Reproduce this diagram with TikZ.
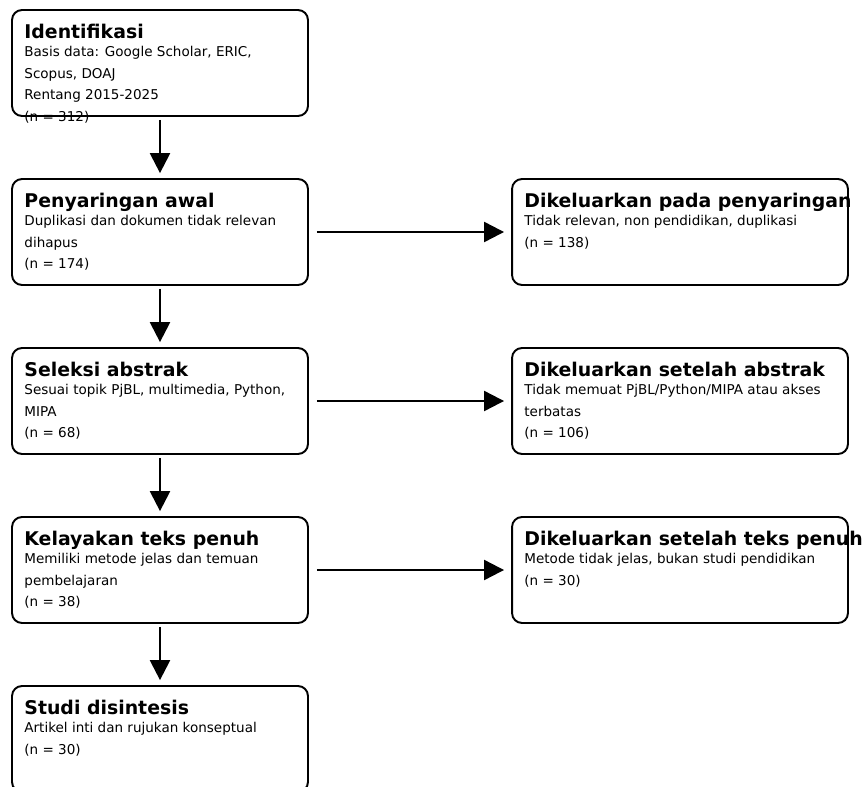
\documentclass[tikz,border=0pt]{standalone}
\usepackage{fontspec}
\setmainfont{DejaVu Sans}
\usetikzlibrary{arrows.meta}
\usetikzlibrary{calc}
\tikzset{stagebox/.style = {draw, line width=1.1pt, rounded corners=0.2cm,
                            minimum width=5.92cm, minimum height=2.12cm, inner sep=0pt},
         exclbox/.style  = {stagebox, minimum width=6.72cm},
         headtext/.style = {anchor=base west, inner sep=0pt,
                            font=\fontsize{10.75}{12}\bfseries\selectfont},
         bodytext/.style = {anchor=north west, inner sep=0pt, align=left,
                            font=\fontsize{7.7}{12.3}\selectfont},
         flow/.style     = {line width=1.3pt, -{Triangle[length=0.4cm, width=0.4cm]}}}

\begin{document}
\begin{tikzpicture}[x=0.02cm, y=-0.02cm]
    \useasboundingbox (0, 0) rectangle (865, 787);
    \clip (0, 0) rectangle (865, 787);

    % main column
    \node [stagebox] (ident) at (160, 63) {};
    \node [stagebox] (screen) at (160, 232) {};
    \node [stagebox] (abstr) at (160, 401) {};
    \node [stagebox] (fulltext) at (160, 570) {};
    \node [stagebox] (synth) at (160, 739) {};

    % excluded records
    \node [exclbox] (exscreen) at (680, 232) {};
    \node [exclbox] (exabstr) at (680, 401) {};
    \node [exclbox] (exfull) at (680, 570) {};

    \foreach \stage/\head in {ident/Identifikasi, screen/Penyaringan awal,
                            abstr/Seleksi abstrak, fulltext/Kelayakan teks penuh,
                            synth/Studi disintesis, exscreen/Dikeluarkan pada penyaringan,
                            exabstr/Dikeluarkan setelah abstrak,
                            exfull/Dikeluarkan setelah teks penuh} {
      \node [headtext] (\stage-h) at ($(\stage.north west) + (13, 29)$) {\head};
    }

    \node [bodytext] (ident-b) at ($(ident.north west) + (13, 37)$)
      {Basis data: Google Scholar, ERIC,\\Scopus, DOAJ\\Rentang 2015-2025\\(n = 312)};
    \node [bodytext] (screen-b) at ($(screen.north west) + (13, 37)$)
      {Duplikasi dan dokumen tidak relevan\\dihapus\\(n = 174)};
    \node [bodytext] (abstr-b) at ($(abstr.north west) + (13, 37)$)
      {Sesuai topik PjBL, multimedia, Python,\\MIPA\\(n = 68)};
    \node [bodytext] (fulltext-b) at ($(fulltext.north west) + (13, 37)$)
      {Memiliki metode jelas dan temuan\\pembelajaran\\(n = 38)};
    \node [bodytext] (synth-b) at ($(synth.north west) + (13, 37)$)
      {Artikel inti dan rujukan konseptual\\(n = 30)};
    \node [bodytext] (exscreen-b) at ($(exscreen.north west) + (13, 37)$)
      {Tidak relevan, non pendidikan, duplikasi\\(n = 138)};
    \node [bodytext] (exabstr-b) at ($(exabstr.north west) + (13, 37)$)
      {Tidak memuat PjBL/Python/MIPA atau akses\\terbatas\\(n = 106)};
    \node [bodytext] (exfull-b) at ($(exfull.north west) + (13, 37)$)
      {Metode tidak jelas, bukan studi pendidikan\\(n = 30)};

    \foreach \a/\b in {ident/screen, screen/abstr, abstr/fulltext, fulltext/synth} {
      \draw [flow, shorten <=1.7pt, shorten >=2.8pt] (\a) -- (\b);
    }
    \foreach \a/\b in {screen/exscreen, abstr/exabstr, fulltext/exfull} {
      \draw [flow, shorten <=4.5pt, shorten >=4pt] (\a) -- (\b);
    }
  \end{tikzpicture}
\end{document}
